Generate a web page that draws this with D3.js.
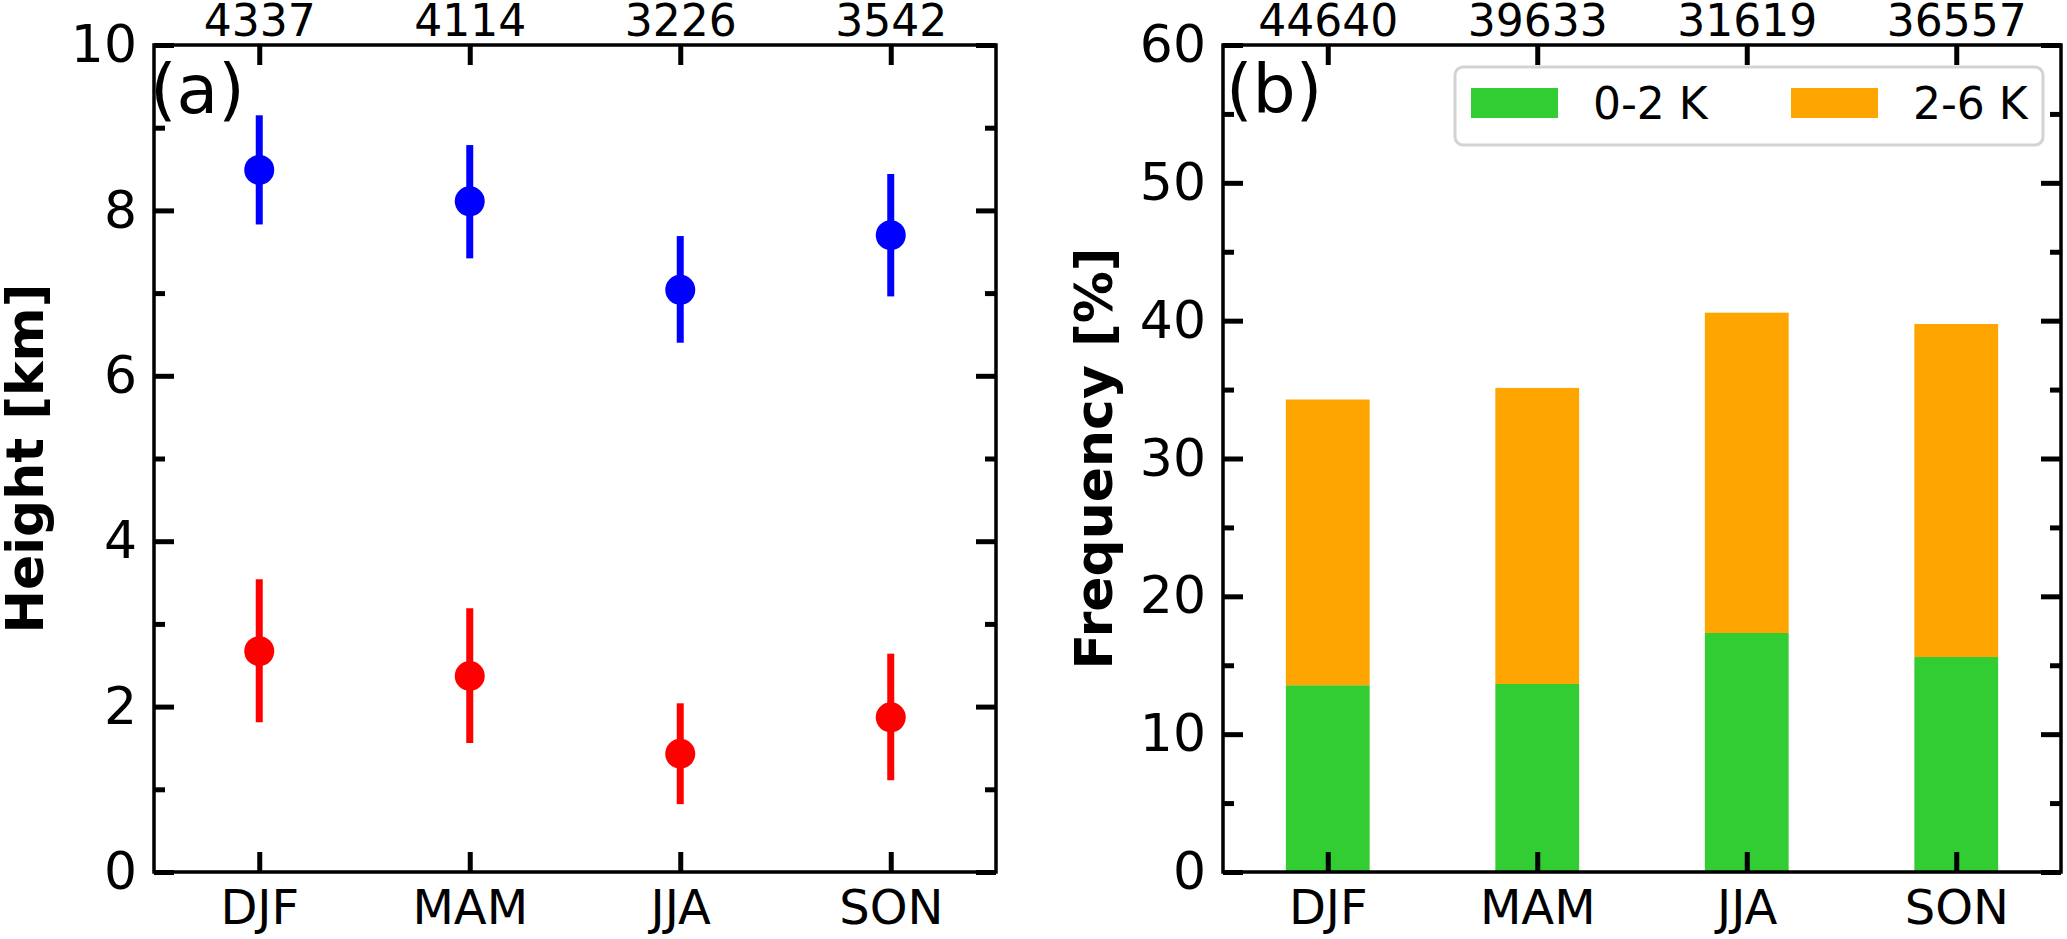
<!DOCTYPE html>
<html>
<head>
<meta charset="utf-8">
<script src="https://cdn.jsdelivr.net/npm/d3@7"></script>
<style>
    body { margin: 0; background: #fff; }
    text { font-family: 'DejaVu Sans', sans-serif; fill: #000; }
</style>
</head>
<body>
<div id="chart"></div>
<script>
'use strict'

// Seasons and sample counts (top axis).
const seasons = ['DJF', 'MAM', 'JJA', 'SON'];
const countsA = [4337, 4114, 3226, 3542];
const countsB = [44640, 39633, 31619, 36557];

// Panel (a): heights [km], centre with lower/upper error ends.
const upperMean = [8.49, 8.11, 7.04, 7.70];
const upperLow  = [7.83, 7.42, 6.40, 6.96];
const upperHigh = [9.15, 8.79, 7.69, 8.44];
const lowerMean = [2.67, 2.37, 1.43, 1.87];
const lowerLow  = [1.81, 1.56, 0.82, 1.11];
const lowerHigh = [3.54, 3.19, 2.04, 2.64];

// Panel (b): stacked frequency [%].
const freqWeak   = [13.55, 13.64, 17.34, 15.60];   // 0-2 K
const freqStrong = [20.73, 21.48, 23.24, 24.16];   // 2-6 K
const legendLabels = ['0-2 K', '2-6 K'];

const heightTicks = [0, 2, 4, 6, 8, 10];
const heightMinor = [1, 3, 5, 7, 9];
const freqTicks = [0, 10, 20, 30, 40, 50, 60];
const freqMinor = [5, 15, 25, 35, 45, 55];

let width = 2067, height = 939;
let plotTop = 45, plotBottom = 872;

let svg = d3.select('#chart')
    .append('svg')
        .attr('width', width)
        .attr('height', height);

svg.append('rect').attr('width', width).attr('height', height).attr('fill', '#fff');

function frame(g, x0, x1, y, minor, labels, counts, tickFontSize) {
    let x = d3.scalePoint().domain(seasons).range([x0, x1]).padding(0.5);

    // major and minor y ticks, inward, both sides
    g.append('g')
        .attr('transform', `translate(${x0},0)`)
        .call(d3.axisLeft(y).tickValues(labels).tickSize(-20).tickSizeOuter(0).tickPadding(17))
        .call(a => a.selectAll('text').style('font-size', tickFontSize + 'px'));
    g.append('g')
        .attr('transform', `translate(${x0},0)`)
        .call(d3.axisLeft(y).tickValues(minor).tickSize(-11).tickSizeOuter(0).tickFormat(''));
    g.append('g')
        .attr('transform', `translate(${x1},0)`)
        .call(d3.axisRight(y).tickValues(labels).tickSize(-20).tickSizeOuter(0).tickFormat(''));
    g.append('g')
        .attr('transform', `translate(${x1},0)`)
        .call(d3.axisRight(y).tickValues(minor).tickSize(-11).tickSizeOuter(0).tickFormat(''));

    // category ticks, bottom and top
    g.append('g')
        .attr('transform', `translate(0,${plotBottom})`)
        .call(d3.axisBottom(x).tickSize(-20).tickSizeOuter(0).tickPadding(18))
        .call(a => a.selectAll('text').style('font-size', '48px'));
    g.append('g')
        .attr('transform', `translate(0,${plotTop})`)
        .call(d3.axisTop(x).tickSize(-20).tickSizeOuter(0).tickPadding(9)
            .tickFormat((d, i) => counts[i]))
        .call(a => a.selectAll('text').style('font-size', '44px'));

    g.selectAll('.domain').remove();
    g.selectAll('.tick line').attr('stroke', '#000').attr('stroke-width', 5);
    g.selectAll('.tick text').attr('fill', '#000').style('font-family', "'DejaVu Sans', sans-serif");

    return x;
}

function spines(g, x0, x1) {
    g.append('rect')
        .attr('x', x0).attr('y', plotTop)
        .attr('width', x1 - x0).attr('height', plotBottom - plotTop)
        .attr('fill', 'none')
        .attr('stroke', '#000')
        .attr('stroke-width', 3.5);
}

// Panel (a).
let ax0 = 154, ax1 = 996;
let ga = svg.append('g');
let ya = d3.scaleLinear().domain([0, 10]).range([plotBottom, plotTop]);
let xa = frame(ga, ax0, ax1, ya, heightMinor, heightTicks, countsA, 52);

let series = [
    {mean: upperMean, lo: upperLow, hi: upperHigh, color: '#0000ff'},
    {mean: lowerMean, lo: lowerLow, hi: lowerHigh, color: '#ff0000'}
];

series.forEach(s => {
    let pts = seasons.map((d, i) => ({season: d, mean: s.mean[i], lo: s.lo[i], hi: s.hi[i]}));
    ga.selectAll(null)
        .data(pts)
        .join('line')
            .attr('x1', d => xa(d.season))
            .attr('x2', d => xa(d.season))
            .attr('y1', d => ya(d.lo))
            .attr('y2', d => ya(d.hi))
            .attr('stroke', s.color)
            .attr('stroke-width', 7);
    ga.selectAll(null)
        .data(pts)
        .join('circle')
            .attr('cx', d => xa(d.season))
            .attr('cy', d => ya(d.mean))
            .attr('r', 15)
            .attr('fill', s.color);
});

spines(ga, ax0, ax1);

ga.append('text')
    .attr('x', 150).attr('y', 113)
    .style('font-size', '68px')
    .text('(a)');

ga.append('text')
    .attr('transform', `translate(43,${(plotTop + plotBottom) / 2}) rotate(-90)`)
    .attr('text-anchor', 'middle')
    .style('font-size', '52px')
    .style('font-weight', 'bold')
    .text('Height [km]');

// Panel (b).
let bx0 = 1223, bx1 = 2061;
let gb = svg.append('g');
let yb = d3.scaleLinear().domain([0, 60]).range([plotBottom, plotTop]);

let xBand = d3.scaleBand().domain(seasons).range([bx0, bx1]).paddingInner(0.6).paddingOuter(0.3);

let stackData = seasons.map((d, i) => ({season: d, weak: freqWeak[i], strong: freqStrong[i]}));
let stacked = d3.stack().keys(['weak', 'strong'])(stackData);
let barColors = ['#32cd32', '#ffa500'];

gb.selectAll('g.layer')
    .data(stacked)
    .join('g')
        .attr('class', 'layer')
        .attr('fill', (d, i) => barColors[i])
    .selectAll('rect')
    .data(d => d)
    .join('rect')
        .attr('x', d => xBand(d.data.season))
        .attr('width', xBand.bandwidth())
        .attr('y', d => yb(d[1]))
        .attr('height', d => yb(d[0]) - yb(d[1]));

frame(gb, bx0, bx1, yb, freqMinor, freqTicks, countsB, 52);
spines(gb, bx0, bx1);

gb.append('text')
    .attr('x', 1226).attr('y', 113)
    .style('font-size', '68px')
    .text('(b)');

gb.append('text')
    .attr('transform', `translate(1112,${(plotTop + plotBottom) / 2}) rotate(-90)`)
    .attr('text-anchor', 'middle')
    .style('font-size', '52px')
    .style('font-weight', 'bold')
    .text('Frequency [%]');

// Legend.
let legend = gb.append('g');
legend.append('rect')
    .attr('x', 1455).attr('y', 67)
    .attr('width', 588).attr('height', 78)
    .attr('rx', 8)
    .attr('fill', '#fff')
    .attr('stroke', '#d3d3d3')
    .attr('stroke-width', 3);

let legendX = [1471, 1791];
legendLabels.forEach((label, i) => {
    legend.append('rect')
        .attr('x', legendX[i]).attr('y', 88)
        .attr('width', 87).attr('height', 30)
        .attr('fill', barColors[i]);
    legend.append('text')
        .attr('x', legendX[i] + 122).attr('y', 119)
        .style('font-size', '44px')
        .text(label);
});
</script>
</body>
</html>
